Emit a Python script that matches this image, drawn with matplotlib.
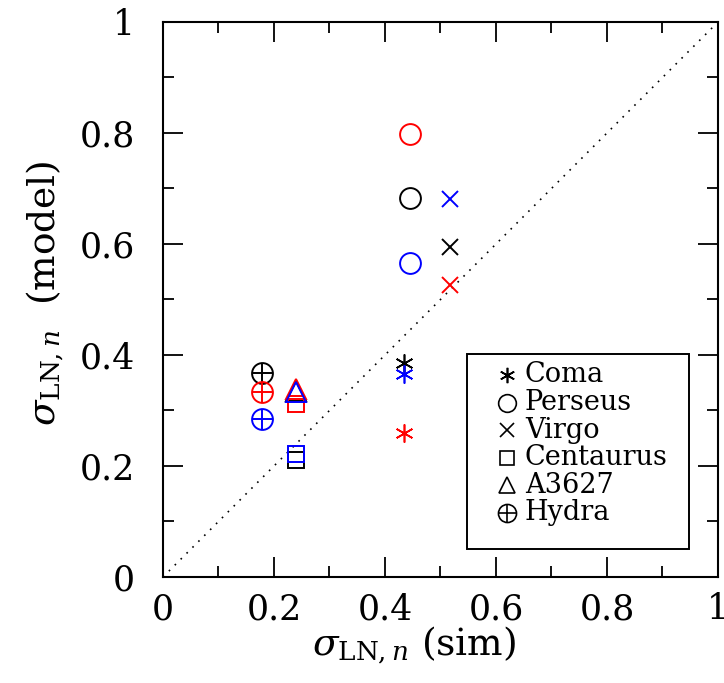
import matplotlib
matplotlib.use("Agg")
import matplotlib.pyplot as plt
from matplotlib.patches import Rectangle
from matplotlib.ticker import MultipleLocator

plt.rcParams['font.family'] = ['DejaVu Serif']
plt.rcParams['mathtext.fontset'] = 'dejavuserif'

clusters = ["Coma", "Perseus", "Virgo", "Centaurus", "A3627", "Hydra"]
sim_x = [0.434, 0.445, 0.517, 0.239, 0.239, 0.179]
model_black = [0.386, 0.683, 0.595, 0.211, 0.336, 0.367]
model_red = [0.259, 0.798, 0.526, 0.312, 0.338, 0.333]
model_blue = [0.366, 0.566, 0.681, 0.222, 0.334, 0.285]
colors = ["black", "red", "blue"]

markers = {
    "Coma": dict(marker=(6, 2, 0), ms=13, mew=1.2),
    "Perseus": dict(marker="o", ms=15, mew=1.4),
    "Virgo": dict(marker="x", ms=12, mew=1.4),
    "Centaurus": dict(marker="s", ms=12, mew=1.4),
    "A3627": dict(marker="^", ms=14, mew=1.4),
    "Hydra": dict(marker="o", ms=15, mew=1.4),
}

fig = plt.figure(figsize=(7.24, 6.83), dpi=100)
ax = fig.add_axes([0.2251, 0.1552, 0.7666, 0.8126])

ax.plot([0, 1], [0, 1], color="black", ls=(0, (1, 4)), lw=1.2)

for vals, col in zip([model_black, model_red, model_blue], colors):
    for name, xv, yv in zip(clusters, sim_x, vals):
        st = markers[name]
        ax.plot([xv], [yv], ls="none", marker=st["marker"], ms=st["ms"],
                mfc="none", mec=col, mew=st["mew"])
        if name == "Hydra":
            ax.plot([xv], [yv], ls="none", marker="+", ms=st["ms"],
                    mec=col, mew=st["mew"])

ax.set_xlim(0, 1)
ax.set_ylim(0, 1)
for a in (ax.xaxis, ax.yaxis):
    a.set_minor_locator(MultipleLocator(0.1))
ticks = [0, 0.2, 0.4, 0.6, 0.8, 1.0]
tlabels = ["0", "0.2", "0.4", "0.6", "0.8", "1"]
ax.set_xticks(ticks)
ax.set_xticklabels(tlabels)
ax.set_yticks(ticks)
ax.set_yticklabels(tlabels)
ax.tick_params(which="both", direction="in", top=True, right=True, width=1.3)
ax.tick_params(which="major", length=14.5, labelsize=25)
ax.tick_params(which="minor", length=8)
ax.tick_params(axis="y", which="major", pad=20)
ax.tick_params(axis="x", which="major", pad=11)
for s in ax.spines.values():
    s.set_linewidth(1.5)

ax.set_xlabel(r"$\sigma_{\mathrm{LN},n}$ (sim)", fontsize=27, labelpad=0)
ax.xaxis.set_label_coords(0.452, -0.085)
ax.set_ylabel(r"$\sigma_{\mathrm{LN},n}$  (model)", fontsize=27)
ax.yaxis.set_label_coords(-0.175, 0.512)

# legend drawn manually
lx_m, lx_t, ly0, dy = 0.620, 0.652, 0.364, 0.0497
for i, name in enumerate(clusters):
    st = markers[name]
    yy = ly0 - i * dy
    if name == "Hydra":
        ax.plot([lx_m], [yy], transform=ax.transAxes, ls="none", marker="o",
                ms=13, mfc="none", mec="black", mew=1.2)
        ax.plot([lx_m], [yy], transform=ax.transAxes, ls="none", marker="+",
                ms=13, mec="black", mew=1.2)
    else:
        ax.plot([lx_m], [yy], transform=ax.transAxes, ls="none", marker=st["marker"],
                ms=st["ms"] * 0.85, mfc="none", mec="black", mew=1.2)
    ax.text(lx_t, yy, name, transform=ax.transAxes, fontsize=19.5, va="center", ha="left")
ax.add_patch(Rectangle((0.548, 0.05), 0.4, 0.352, transform=ax.transAxes,
                       fill=False, ec="black", lw=1.4, zorder=5))

fig.savefig("out.png", dpi=100)
